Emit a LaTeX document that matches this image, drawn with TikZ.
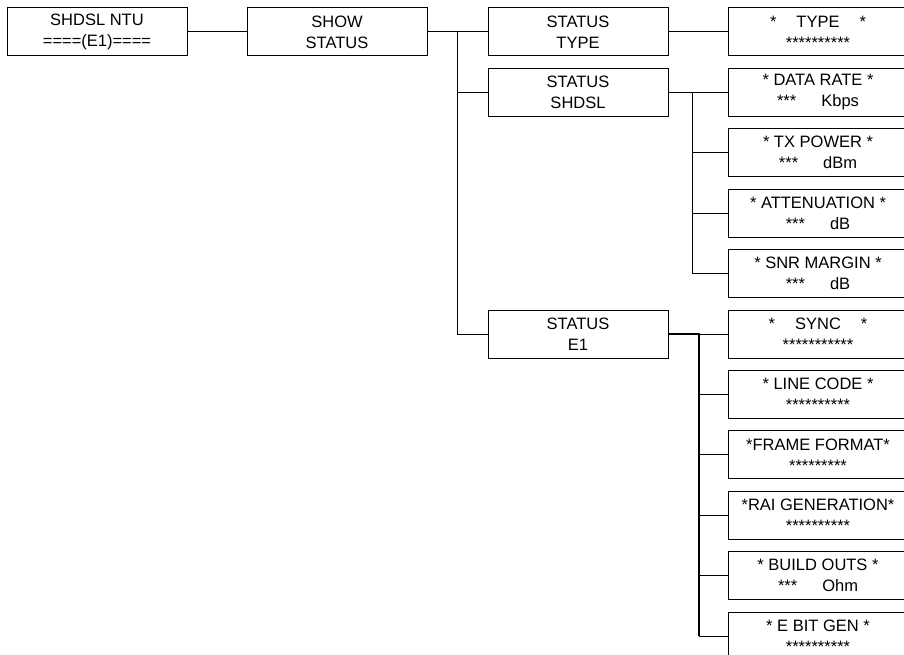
\documentclass[tikz,border=0pt]{standalone}
\usepackage{fontspec}
\setmainfont{Liberation Sans}
\usepackage{tikz}
\usetikzlibrary{positioning}

\begin{document}
\begin{tikzpicture}[
        node distance=12.4pt and 60pt,
        block/.style={
            draw=black,
            line width=1pt,
            outer sep=0pt,
            inner sep=0pt,
            minimum width=180pt,
            minimum height=48pt,
            align=center,
            font=\fontsize{16.5}{21}\selectfont
        },
        line/.style={line width=1pt,black},
        bus/.style={line width=1.7pt,black}
    ]
        \path[use as bounding box] (0,0) rectangle (904pt,-655pt);
        \clip (0,0) rectangle (904pt,-655pt);

        \node[block] (ntu) at (97pt,-32pt) {SHDSL NTU\\====(E1)====};
        \node[block, right=of ntu] (show) {SHOW\\STATUS};
        \node[block, right=61pt of show] (stype) {STATUS\\TYPE};
        \node[block, right=of stype] (ttype) {*\hspace{20pt}TYPE\hspace{20pt}*\\{}**********};
        \node[block, below=of ttype] (rate) {* DATA RATE *\\{}***\hspace{25pt}Kbps};
        \node[block, below=of rate] (txpow) {* TX POWER *\\{}***\hspace{25pt}dBm};
        \node[block, below=of txpow] (atten) {* ATTENUATION *\\{}***\hspace{25pt}dB};
        \node[block, below=of atten] (snr) {* SNR MARGIN *\\{}***\hspace{25pt}dB};
        \node[block, below=of snr] (sync) {*\hspace{20pt}SYNC\hspace{20pt}*\\{}***********};
        \node[block, below=of sync] (lcode) {* LINE CODE *\\{}**********};
        \node[block, below=of lcode] (frame) {*FRAME FORMAT*\\{}*********};
        \node[block, below=of frame] (rai) {*RAI GENERATION*\\{}**********};
        \node[block, below=of rai] (bouts) {* BUILD OUTS *\\{}***\hspace{25pt}Ohm};
        \node[block, below=of bouts] (ebit) {* E BIT GEN *\\{}**********};
        \node[block, left=of rate] (sshdsl) {STATUS\\SHDSL};
        \node[block, left=of sync] (se1) {STATUS\\E1};

        % bus points
        \coordinate (busA) at ([xshift=30pt]show.east);
        \coordinate (busB) at ([xshift=24pt]sshdsl.east);
        \coordinate (busC) at ([xshift=31pt]se1.east);

        \draw[line] (ntu) -- (show);
        \draw[line] (show.east) -- (stype.west);
        \draw[line] (busA) |- (sshdsl.west);
        \draw[line] (busA) |- (se1.west);
        \draw[line] (stype) -- (ttype);

        \draw[line] (sshdsl.east) -- (rate.west);
        \foreach \n in {txpow,atten,snr}
            \draw[line] (busB) |- (\n.west);

        \draw[bus] (se1.east) -- (busC) -- (busC |- ebit.west);
        \foreach \n in {sync,lcode,frame,rai,bouts,ebit}
            \draw[line] (busC |- \n.west) -- (\n.west);
    \end{tikzpicture}
\end{document}
